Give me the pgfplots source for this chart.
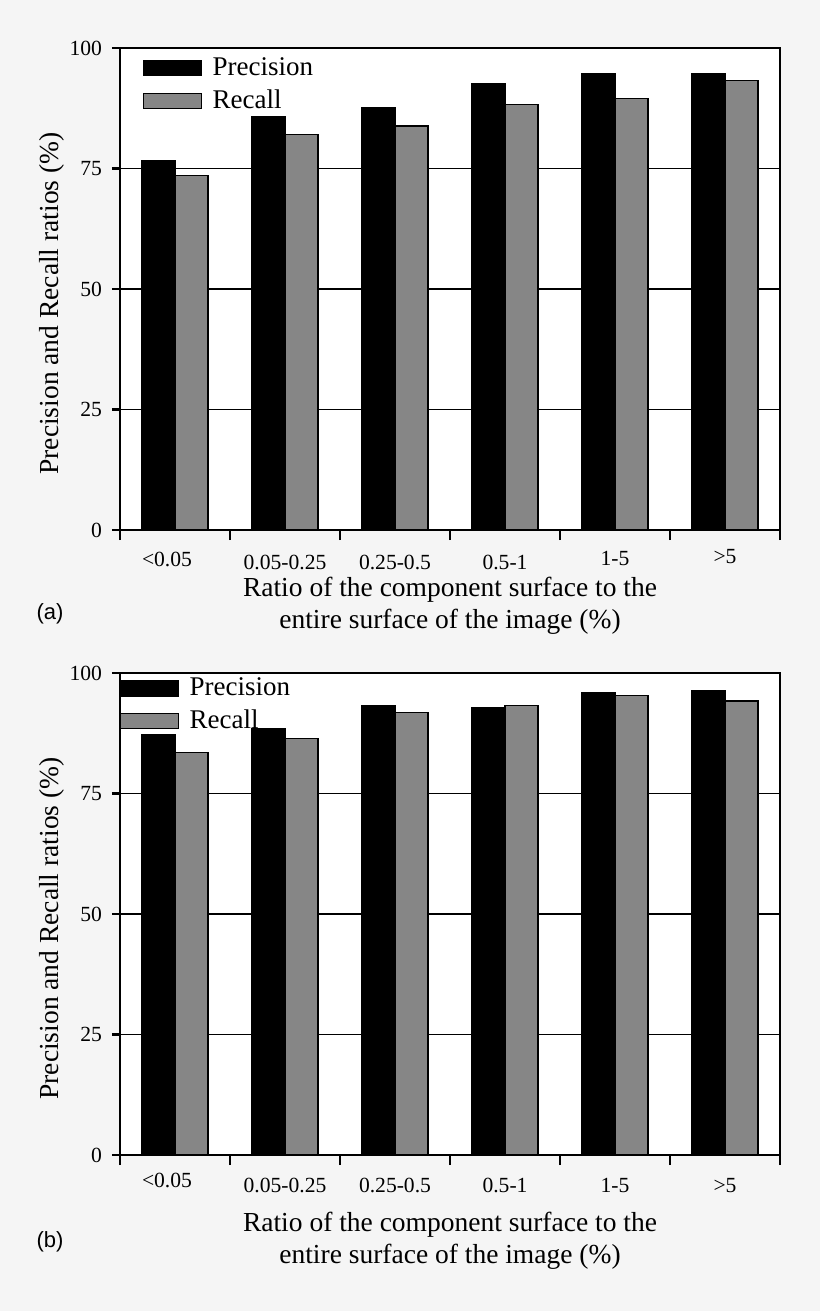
\documentclass[border=0pt]{standalone}
\usepackage{fontspec}
\setmainfont{Liberation Serif}
\newfontfamily\sansfont{Liberation Sans}
\usepackage{pgfplots}
\usepackage{pgfplotstable}
\pgfplotsset{compat=1.18}
\definecolor{bgGray}{RGB}{245,245,245}
\definecolor{barGray}{RGB}{134,134,134}

% panel (a)
\pgfplotstableread{
cat prec rec
0 76.7 73.6
1 85.8 82.1
2 87.6 83.8
3 92.6 88.2
4 94.6 89.5
5 94.6 93.2
}\dataA

% panel (b)
\pgfplotstableread{
cat prec rec
0 87.2 83.5
1 88.5 86.4
2 93.3 91.8
3 92.8 93.2
4 95.9 95.3
5 96.4 94.2
}\dataB

% raised tick label that keeps its box height
\newcommand{\up}[2]{\raisebox{#1}[\height][\depth]{#2}}

\pgfplotsset{
  prpanel/.style={
    scale only axis, width=330pt, height=241pt,
    anchor=north west,
    axis background/.style={fill=white},
    ybar=0pt, bar width=16.5pt,
    xmin=-0.5, xmax=5.5, ymin=0, ymax=100,
    xtick={0,...,5},
    minor xtick={-0.5,0.5,...,5.5},
    major x tick style={draw=none},
    ytick={0,25,50,75,100},
    ymajorgrids, grid style={black, line width=0.6pt},
    tick align=outside, xtick pos=bottom, ytick pos=left,
    major tick length=4pt, minor tick length=5pt,
    tick style={black, line width=1.1pt},
    axis line style={line width=1.4pt},
    /pgf/number format/assume math mode=true,
    tick label style={font=\fontsize{10.8}{12}\selectfont},
    yticklabel style={xshift=-1.5pt},
    label style={font=\fontsize{13.75}{16}\selectfont},
    ylabel={Precision and Recall ratios (\%)},
    xlabel={Ratio of the component surface to the\\entire surface of the image (\%)},
    xlabel style={align=center, at={(axis description cs:0.5,0)}, anchor=north},
    legend cell align=left,
    legend style={draw=none, fill=none, anchor=north west,
      font=\fontsize{13.5}{16}\selectfont,
      inner sep=0pt, row sep=1pt, column sep=3pt,
      nodes={inner sep=2.3pt}},
  },
  legrect/.style={legend image code/.code={
    \draw[##1] (0pt,-3.75pt) rectangle (29pt,3.75pt);}},
}

\begin{document}
\begin{tikzpicture}
\path[use as bounding box, fill=bgGray] (0,0) rectangle (410pt,-655.5pt);

\begin{axis}[prpanel, at={(60pt,-24pt)},
  xticklabels={{\up{1.7pt}{<0.05}\kern8pt},0.05-0.25,0.25-0.5,0.5-1,{\up{1.7pt}{1-5}},{\up{3pt}{>5}}},
  xticklabel style={yshift=-5pt},
  xlabel style={yshift=-20pt},
  ylabel style={at={(axis description cs:-0.103,0.47)}, anchor=center},
  legend style={at={(0.034,0.99)}}]
\addplot[fill=black, draw=black, line width=0.6pt, legrect] table[x=cat, y=prec] {\dataA};
\addplot[fill=barGray, draw=black, line width=0.6pt, legrect] table[x=cat, y=rec] {\dataA};
\legend{Precision, Recall}
\end{axis}
\node[font=\sansfont\fontsize{11}{13}\selectfont] at (25pt,-307pt) {(a)};

\begin{axis}[prpanel, at={(60pt,-336.5pt)},
  xticklabels={{\up{2.5pt}{<0.05}\kern8pt},0.05-0.25,0.25-0.5,0.5-1,1-5,>5},
  xticklabel style={yshift=-4pt},
  xlabel style={yshift=-25pt},
  ylabel style={at={(axis description cs:-0.103,0.47)}, anchor=center},
  legend style={at={(-0.001,1.0)}}]
\addplot[fill=black, draw=black, line width=0.6pt, legrect] table[x=cat, y=prec] {\dataB};
\addplot[fill=barGray, draw=black, line width=0.6pt, legrect] table[x=cat, y=rec] {\dataB};
\legend{Precision, Recall}
\end{axis}
\node[font=\sansfont\fontsize{11}{13}\selectfont] at (25pt,-621pt) {(b)};
\end{tikzpicture}
\end{document}
